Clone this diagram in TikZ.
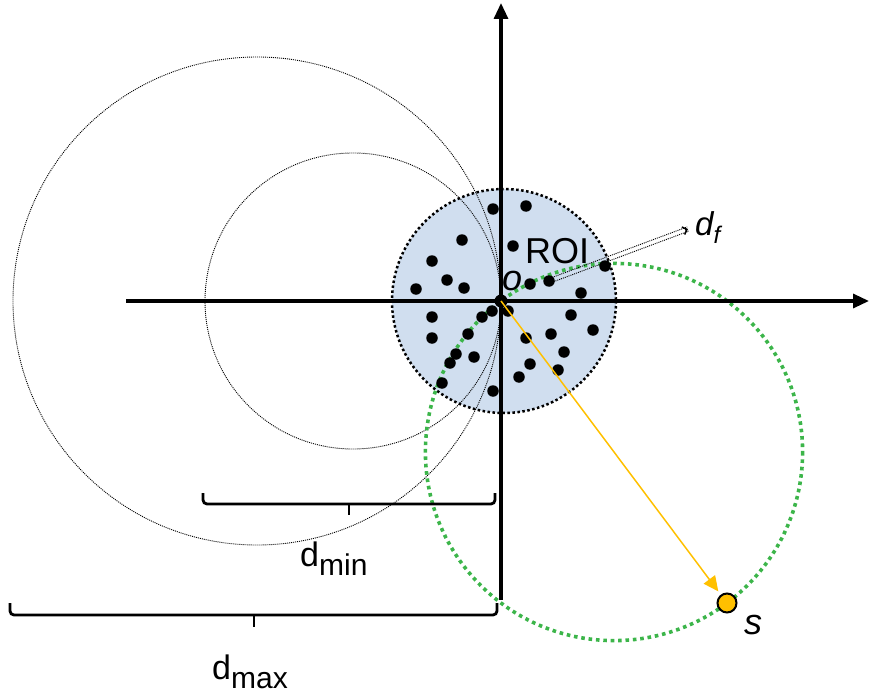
\documentclass[tikz,border=0pt]{standalone}
\usepackage{fontspec}
\setmainfont{Liberation Sans}
\usetikzlibrary{arrows.meta,calc}
\definecolor{roifill}{HTML}{D0DEEF}
\definecolor{gdot}{HTML}{3CB54A}
\definecolor{sorange}{HTML}{FFC000}
\begin{document}
\begin{tikzpicture}[x=1pt,y=-1pt,
  axis/.style={line width=3.2pt,-{Triangle[length=16pt,width=14pt]}},
  thincirc/.style={line width=0.9pt,dash pattern=on 1pt off 1pt,black},
  roicirc/.style={fill=roifill,line width=2.5pt,dash pattern=on 2.5pt off 2.5pt},
  greencirc/.style={gdot,line width=3.6pt,dash pattern=on 3.6pt off 3.8pt},
  pt/.style={circle,fill=black,inner sep=0pt,minimum size=11.5pt},
  brace/.style={line width=2.8pt,rounded corners=4pt},
  lbl/.style={inner sep=0pt,anchor=base west}]
\useasboundingbox (0,0) rectangle (869,695);
% ROI region
\draw[roicirc] (504,301) circle (112);
% thin dotted circles
\draw[thincirc] (257,301) circle (244);
\draw[thincirc] (353,301) circle (148);
% green circle with diameter O-s
\coordinate (O) at (501,301);
\coordinate (S) at (727,603);
\draw[greencirc] ($(O)!0.5!(S)$) circle (188.6);
% axes
\coordinate (xa) at (126,301);
\coordinate (xb) at (869,301);
\coordinate (ya) at (501,600);
\coordinate (yb) at (501,3);
\draw[axis] (xa) -- (xb);
\draw[axis] (ya) -- (yb);
% dots
\foreach \x/\y [count=\i] in {493/209,526/206,462/240,513/246,432/261,447/280,464/288,416/289,
  530/284,549/281,605/266,581/293,508/311,492/311,482/317,432/317,571/315,593/330,
  432/338,468/334,526/338,551/334,564/352,456/354,474/357,450/363,530/364,558/370,
  519/377,442/383,493/391}
  \node[pt] (p\i) at (\x,\y) {};
\node[pt,minimum size=13pt] (po) at (O) {};
% orange arrow to s
\node[circle,draw=black,fill=sorange,line width=2pt,minimum size=19pt,inner sep=0pt] (s) at (S) {};
\draw[sorange,line width=1.5pt,-{Triangle[length=15pt,width=14pt]},shorten >=4pt] (po.center) -- (s);
% d_f arrow (double dotted)
\coordinate (fa) at (549,281);
\coordinate (fb) at (688,229);
\draw[line width=0.9pt,dash pattern=on 1pt off 1pt] ([shift={(-0.8,-2.1)}]fa) -- ([shift={(-0.8,-2.1)}]fb);
\draw[line width=0.9pt,dash pattern=on 1pt off 1pt] ([shift={(0.8,2.1)}]fa) -- ([shift={(0.8,2.1)}]fb);
\draw[line width=1.5pt,-{Straight Barb[length=4pt,width=8pt]}] ($(fb)!3pt!(fa)$) -- (fb);
% braces
\draw[brace] (203,493) -- (203,504) -- (495,504) -- (495,493);
\draw[line width=2.8pt] (349,504) -- (349,515);
\draw[brace] (10,603) -- (10,615) -- (497,615) -- (497,603);
\draw[line width=2.8pt] (254,615) -- (254,627);
% labels
\node[lbl] (roi) at (525,263) {\fontsize{36}{36}\selectfont ROI};
\node[lbl] (olab) at (502,290) {\fontsize{36}{36}\selectfont\itshape o};
\node[lbl] (slab) at (744,634) {\fontsize{36}{36}\selectfont\itshape s};
\node[lbl] (df) at (695,235) {\fontsize{33}{33}\selectfont\itshape d\raisebox{-8pt}{\fontsize{24}{24}\selectfont f}};
\node[lbl] (dmin) at (300,566) {\fontsize{34}{34}\selectfont d\raisebox{-9pt}{\fontsize{30}{30}\selectfont min}};
\node[lbl] (dmax) at (212,679) {\fontsize{34}{34}\selectfont d\raisebox{-9pt}{\fontsize{30}{30}\selectfont max}};
\end{tikzpicture}
\end{document}
